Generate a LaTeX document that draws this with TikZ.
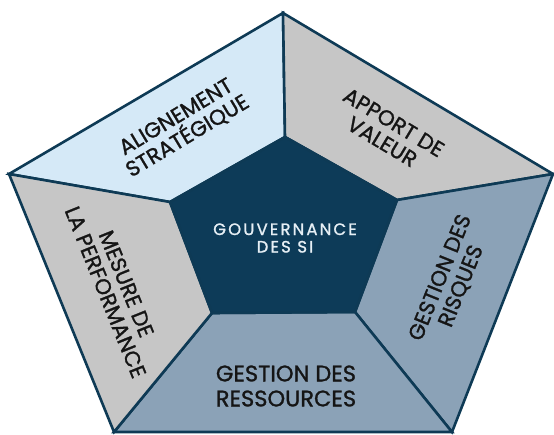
\documentclass[tikz,border=0pt]{standalone}
\usepackage{fontspec}
\setmainfont{Poppins}[FakeBold=1.2]
\definecolor{navy}{HTML}{0E3A55}
\definecolor{core}{HTML}{0D3B58}
\definecolor{paleblue}{HTML}{D5E9F7}
\definecolor{lightgray}{HTML}{C6C6C6}
\definecolor{steel}{HTML}{8BA2B7}
\definecolor{ink}{HTML}{151515}
\definecolor{coretext}{HTML}{E6EFF5}
\begin{document}
\begin{tikzpicture}[x=1pt,y=-1pt,
  edge/.style={draw=navy, line width=2.6pt, line join=miter},
  sector/.style={edge},
  label/.style={text=ink, align=center, inner sep=0pt,
    font=\fontsize{21.5}{22.5}\selectfont},
]
\useasboundingbox (0,0) rectangle (554,434);

% outer pentagon corners
\coordinate (OT) at (283,13);
\coordinate (OR) at (553,174);
\coordinate (OBR) at (452,432);
\coordinate (OBL) at (114,432);
\coordinate (OL) at (9,174);
% inner pentagon corners
\coordinate (IT) at (285,137);
\coordinate (IR) at (397,200);
\coordinate (IBR) at (355,312);
\coordinate (IBL) at (212,313);
\coordinate (IL) at (170,202);

% the five outer sectors
\filldraw[sector, fill=paleblue] (OT) -- (OL) -- (IL) -- (IT) -- cycle;
\filldraw[sector, fill=lightgray] (OT) -- (OR) -- (IR) -- (IT) -- cycle;
\filldraw[sector, fill=steel] (OR) -- (OBR) -- (IBR) -- (IR) -- cycle;
\filldraw[sector, fill=steel] (OBR) -- (OBL) -- (IBL) -- (IBR) -- cycle;
\filldraw[sector, fill=lightgray] (OBL) -- (OL) -- (IL) -- (IBL) -- cycle;
% the core
\filldraw[edge, fill=core] (IT) -- (IR) -- (IBR) -- (IBL) -- (IL) -- cycle;

% labels
\node[text=coretext, align=center, inner sep=0pt,
  font=\fontsize{16.5}{17.5}\selectfont\addfontfeature{LetterSpace=13}]
  (gov) at (285,238) {GOUVERNANCE\\DES SI};
\node[label, rotate=31] (align) at (182,127) {ALIGNEMENT\\STRATÉGIQUE};
\node[label, rotate=-31] (value) at (388,132) {APPORT DE\\VALEUR};
\node[label, rotate=68] (risk) at (451,282) {GESTION DES\\RISQUES};
\node[label, rotate=-68] (perf) at (116,288) {MESURE DE\\LA PERFORMANCE};
\node[label, font=\fontsize{22.5}{25}\selectfont] (res) at (286,386) {GESTION DES\\RESSOURCES};
\end{tikzpicture}
\end{document}
